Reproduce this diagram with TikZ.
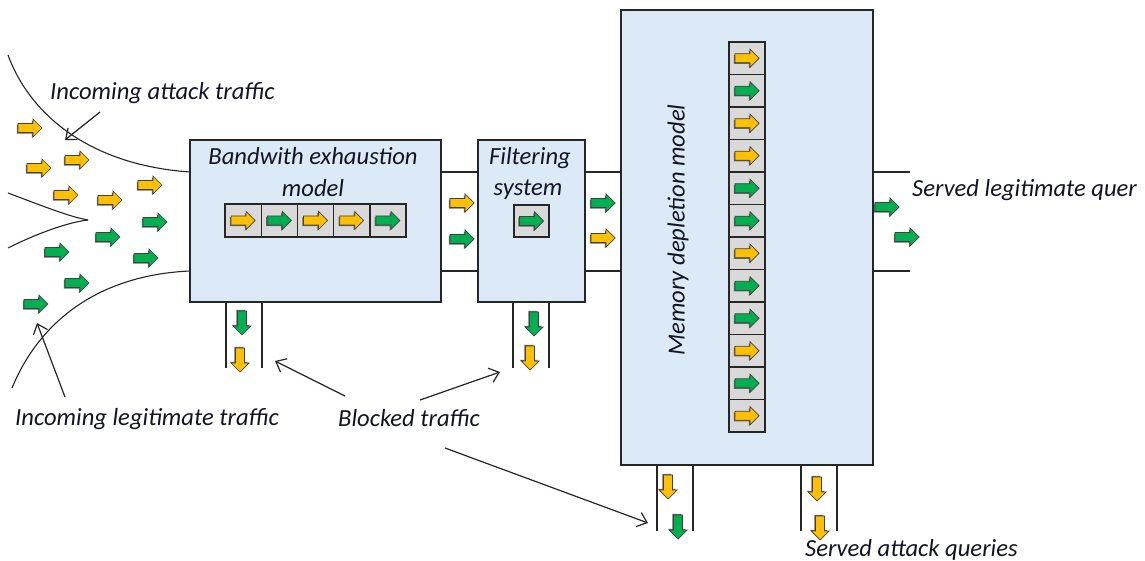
\documentclass[tikz,border=0pt]{standalone}
\usepackage{fontspec}
\setmainfont{Carlito}
\usetikzlibrary{arrows.meta}
\definecolor{ora}{HTML}{FFC000}
\definecolor{grn}{HTML}{00B050}
\definecolor{boxfill}{HTML}{DCE9F6}
\definecolor{cellfill}{HTML}{D9D9D9}
\definecolor{txt}{HTML}{141428}
\tikzset{
  pics/blk/.style={code={
    \fill[black!60] (-13.2,-3.3) -- (1.8,-3.3) -- (1.8,-7.8) -- (10.8,1.2) -- (1.8,10.2) -- (1.8,5.7) -- (-13.2,5.7) -- cycle;
    \filldraw[fill=#1, draw=black!75, line width=0.7pt] (-12,-4.5) -- (3,-4.5) -- (3,-9) -- (12,0) -- (3,9) -- (3,4.5) -- (-12,4.5) -- cycle;
  }},
  box/.style={draw=black!85, line width=1.5pt, fill=boxfill, inner sep=0},
  cell/.style={draw=black!85, line width=1.4pt, fill=cellfill, inner sep=0, minimum width=36.2pt, minimum height=33pt},
  chan/.style={draw=black!85, line width=1.5pt},
  curve/.style={draw=black!85, line width=1.1pt},
  pointer/.style={draw=black!85, line width=1.2pt, -{Straight Barb[length=9pt,width=15pt,line width=1.2pt]}},
  lbl/.style={font=\fontsize{24.6}{28}\selectfont\itshape, text=txt, inner sep=0},
}
\begin{document}
\begin{tikzpicture}[x=1pt,y=-1pt]
\useasboundingbox (0,0) rectangle (1145,561);
\fill[white] (0,0) rectangle (1145,561);

% left funnel curves
\draw[curve] (8,55) .. controls (30,115) and (90,165) .. (190,172);
\draw[curve] (12,388) .. controls (40,320) and (100,275) .. (190,271);
\draw[curve] (8,193) .. controls (40,205) and (70,217) .. (88,220);
\draw[curve] (8,248) .. controls (40,232) and (70,222) .. (88,220);

% boxes
\node[box, minimum width=251pt, minimum height=162pt] (bw) at (315.5,221) {};
\node[box, minimum width=107pt, minimum height=162pt] (flt) at (531.5,221) {};
\node[box, minimum width=252pt, minimum height=455pt] (mem) at (747,237.5) {};

% channels between boxes
\draw[chan] (441,172) -- (478,172);
\draw[chan] (441,271) -- (478,271);
\draw[chan] (585,172) -- (621,172);
\draw[chan] (585,271) -- (621,271);
\draw[chan] (873,172) -- (910,172);
\draw[chan] (873,271) -- (910,271);

% bottom outlets
\draw[chan] (226,302) -- (226,368);
\draw[chan] (262,302) -- (262,368);
\draw[chan] (513,302) -- (513,368);
\draw[chan] (549,302) -- (549,368);
\draw[chan] (657,465) -- (657,531);
\draw[chan] (693,465) -- (693,531);
\draw[chan] (801,465) -- (801,531);
\draw[chan] (837,465) -- (837,531);

% box titles
\node[lbl, anchor=base] (bwt1) at (313,165) {Bandwith exhaustion};
\node[lbl, anchor=base] (bwt2) at (313,197) {model};
\node[lbl, anchor=base] (flt1) at (530,165) {Filtering};
\node[lbl, anchor=base] (flt2) at (528,196) {system};
\node[lbl, rotate=90] (memt) at (678,230) {Memory depletion model};

% bandwidth queue
\foreach \i/\c in {1/ora,2/grn,3/ora,4/ora,5/grn}{
  \node[cell] (q\i) at ({225+36.2*(\i-0.5)},220.5) {};
  \pic at (q\i) {blk=\c};
}
% filtering cell
\node[cell, minimum width=35pt, minimum height=32pt] (fc) at (531.5,221) {};
\pic at (fc) {blk=grn};

% memory column
\foreach \i/\c in {1/ora,2/grn,3/ora,4/ora,5/grn,6/grn,7/ora,8/grn,9/grn,10/ora,11/grn,12/ora}{
  \node[cell, minimum height=32.5pt] (m\i) at (747,{42+32.5*(\i-0.5)}) {};
  \pic at (m\i) {blk=\c};
}

% loose arrows: incoming
\pic at (30,128) {blk=ora};
\pic at (39,168) {blk=ora};
\pic at (77,160) {blk=ora};
\pic at (66,195) {blk=ora};
\pic at (110,200) {blk=ora};
\pic at (150,185) {blk=ora};
\pic at (155,222) {blk=grn};
\pic at (108,237) {blk=grn};
\pic at (57,252) {blk=grn};
\pic at (146,258) {blk=grn};
\pic at (77,283) {blk=grn};
\pic at (36,304) {blk=grn};

% between boxes
\pic at (462,203) {blk=ora};
\pic at (462,239) {blk=grn};
\pic at (603,203) {blk=grn};
\pic at (603,238) {blk=ora};
\pic at (887,207) {blk=grn};
\pic at (907,237) {blk=grn};

% down arrows
\pic[rotate=-90] at (242,323) {blk=grn};
\pic[rotate=-90] at (240,360) {blk=ora};
\pic[rotate=-90] at (534,324) {blk=grn};
\pic[rotate=-90] at (530,358) {blk=ora};
\pic[rotate=-90] at (668,487) {blk=ora};
\pic[rotate=-90] at (678,527) {blk=grn};
\pic[rotate=-90] at (817,489) {blk=ora};
\pic[rotate=-90] at (820,528) {blk=ora};

% labels
\node[lbl, anchor=base west] (inatt) at (50,100) {Incoming attack traffic};
\node[lbl, anchor=base west] (inleg) at (15,425) {Incoming legitimate traffic};
\node[lbl, anchor=base west] (blk) at (338,426) {Blocked traffic};
\node[lbl, anchor=base west] (servleg) at (912,197) {Served legitimate quer};
\node[lbl, anchor=base west] (servatt) at (805,556) {Served attack queries};

% pointers
\coordinate (pa0) at (100,112); \coordinate (pa1) at (65,140);
\coordinate (pl0) at (65,397); \coordinate (pl1) at (37,323);
\coordinate (b10) at (345,396); \coordinate (b11) at (275,361);
\coordinate (b20) at (420,400); \coordinate (b21) at (500,372);
\coordinate (b30) at (445,448); \coordinate (b31) at (648,523);
\draw[pointer] (pa0) -- (pa1);
\draw[pointer] (pl0) -- (pl1);
\draw[pointer] (b10) -- (b11);
\draw[pointer] (b20) -- (b21);
\draw[pointer] (b30) -- (b31);
\end{tikzpicture}
\end{document}
